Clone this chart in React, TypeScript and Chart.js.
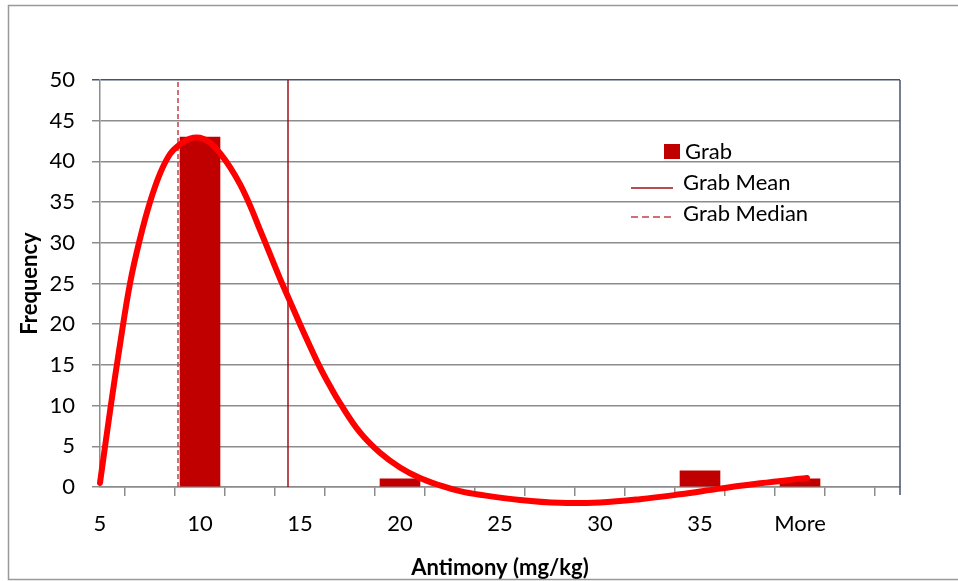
import React, { useEffect, useRef } from 'react';
import { Chart, registerables } from 'chart.js';

Chart.register(...registerables);

// ---- Data ----
const xTickValues = [5, 10, 15, 20, 25, 30, 35, 40];
const xTickLabels = ['5', '10', '15', '20', '25', '30', '35', 'More'];
const binX = [10, 20, 35, 40];
const binCounts = [43, 1, 2, 1];
const curveX = [5.0, 5.5, 6.0, 6.5, 7.0, 7.5, 8.0, 8.5, 9.0, 9.5, 10.0, 10.5, 11.0, 11.5, 12.0, 12.5, 13.0, 13.5, 14.0, 14.5, 15.0, 15.5, 16.0, 16.5, 17.0, 18.0, 19.0, 20.0, 21.0, 22.0, 23.0, 24.0, 26.0, 28.0, 30.0, 32.0, 34.0, 36.0, 38.0, 40.35];
const curveY = [0.5, 9.3, 17.5, 25.0, 30.5, 35.0, 38.5, 40.9, 42.1, 42.8, 42.9, 42.3, 41.0, 39.3, 37.2, 34.6, 31.6, 28.6, 25.6, 22.8, 20.0, 17.3, 14.7, 12.4, 10.3, 6.7, 4.2, 2.4, 1.1, 0.2, -0.5, -0.95, -1.6, -1.95, -1.9, -1.5, -0.9, -0.2, 0.45, 1.1];
const meanValue = 14.4;
const medianValue = 8.9;
const yRange = [0, 50];
const legendLabels = ['Grab', 'Grab Mean', 'Grab Median'];
const xTitle = 'Antimony (mg/kg)';
const yTitle = 'Frequency';

// ---- Styles ----
const barColor = '#C00000';
const curveColor = '#FF0000';
const meanColor = '#A0101A';
const medianColor = '#C0404A';
const gridColor = '#8c8c8c';
const frameDark = '#46536a';
const FONT = 'Lato, "Liberation Sans", sans-serif';

const decorPlugin = {
  id: 'decor',
  afterDraw(chart: any) {
    const ctx = chart.ctx as CanvasRenderingContext2D;
    const a = chart.chartArea;
    ctx.save();
    ctx.strokeStyle = frameDark;
    ctx.lineWidth = 1.5;
    ctx.beginPath();
    ctx.moveTo(a.right, a.top);
    ctx.lineTo(a.right, a.bottom + 8);
    ctx.stroke();
    ctx.strokeStyle = '#999999';
    ctx.lineWidth = 1.5;
    ctx.strokeRect(8.5, 5.5, chart.width + 10, 574);
    ctx.font = `22px ${FONT}`;
    ctx.textBaseline = 'alphabetic';
    ctx.textAlign = 'left';
    ctx.fillStyle = barColor;
    ctx.fillRect(664, 144, 16, 15);
    ctx.fillStyle = '#000';
    ctx.fillText(legendLabels[0], 685, 159);
    ctx.strokeStyle = meanColor;
    ctx.lineWidth = 1.5;
    ctx.beginPath();
    ctx.moveTo(631, 188);
    ctx.lineTo(673, 188);
    ctx.stroke();
    ctx.fillText(legendLabels[1], 683, 190);
    ctx.strokeStyle = medianColor;
    ctx.setLineDash([7, 4]);
    ctx.beginPath();
    ctx.moveTo(631, 217);
    ctx.lineTo(673, 217);
    ctx.stroke();
    ctx.setLineDash([]);
    ctx.fillText(legendLabels[2], 683, 221);
    ctx.restore();
  },
};

export default function App() {
  const ref = useRef<HTMLCanvasElement>(null);
  useEffect(() => {
    document.body.style.margin = '0';
    const canvas = ref.current!;
    const chart = new Chart(canvas, {
      type: 'bar',
      data: {
        datasets: [
          {
            type: 'line',
            label: 'Curve',
            data: curveX.map((x, i) => ({ x, y: curveY[i] })),
            borderColor: curveColor,
            borderWidth: 6,
            pointRadius: 0,
            tension: 0.4,
            borderCapStyle: 'round',
            borderJoinStyle: 'round',
            fill: false,
            clip: false as any,
            order: 0,
          } as any,
          {
            type: 'line',
            label: legendLabels[1],
            data: [{ x: meanValue, y: yRange[0] }, { x: meanValue, y: yRange[1] }],
            borderColor: meanColor,
            borderWidth: 1.5,
            pointRadius: 0,
            order: 1,
          } as any,
          {
            type: 'line',
            label: legendLabels[2],
            data: [{ x: medianValue, y: yRange[0] }, { x: medianValue, y: yRange[1] }],
            borderColor: medianColor,
            borderWidth: 1.5,
            borderDash: [5, 3],
            pointRadius: 0,
            order: 1,
          } as any,
          {
            type: 'bar',
            label: legendLabels[0],
            data: binX.map((x, i) => ({ x, y: binCounts[i] })),
            backgroundColor: barColor,
            barThickness: 40,
            grouped: false,
            order: 2,
          } as any,
        ],
      },
      options: {
        responsive: false,
        animation: false,
        layout: { padding: { left: 0, right: 58, top: 80, bottom: 0 } },
        plugins: { legend: { display: false }, tooltip: { enabled: false } },
        scales: {
          x: {
            type: 'linear',
            min: 5,
            max: 45,
            offset: false,
            afterFit: (s: any) => { s.height = 94; },
            ticks: {
              stepSize: 2.5,
              autoSkip: false,
              maxRotation: 0,
              padding: 15,
              color: '#000',
              font: { family: FONT, size: 22 },
              callback: (v: any) => {
                const i = xTickValues.indexOf(Number(v));
                return i >= 0 ? xTickLabels[i] : '';
              },
            },
            grid: { drawOnChartArea: false, tickLength: 9, color: gridColor, lineWidth: 1.5 },
            border: { color: gridColor, width: 1.5 },
            title: {
              display: true,
              text: xTitle,
              color: '#000',
              font: { family: FONT, size: 22, weight: 'bold' },
              padding: { top: 0, bottom: 0 },
            },
          },
          y: {
            min: yRange[0],
            max: yRange[1],
            afterFit: (s: any) => { s.width = 100; },
            ticks: {
              stepSize: 5,
              padding: 17,
              color: '#000',
              font: { family: FONT, size: 22 },
            },
            grid: {
              tickLength: 8,
              color: (c: any) => (c.tick && c.tick.value === yRange[1] ? frameDark : gridColor),
              lineWidth: 1.5,
            },
            border: { color: gridColor, width: 1.5 },
            title: {
              display: true,
              text: yTitle,
              color: '#000',
              font: { family: FONT, size: 22, weight: 'bold' },
              padding: { top: 17, bottom: 0 },
            },
          },
        },
      } as any,
      plugins: [decorPlugin],
    });
    return () => chart.destroy();
  }, []);
  return (
    <div style={{ width: 958, height: 581 }}>
      <canvas ref={ref} width={958} height={581} style={{ display: 'block' }} />
    </div>
  );
}
